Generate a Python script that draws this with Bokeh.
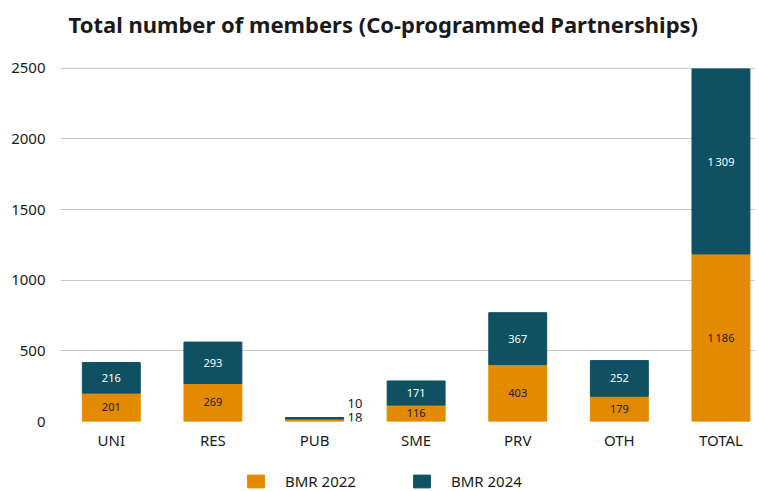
from bokeh.plotting import figure
from bokeh.layouts import column
from bokeh.models import (ColumnDataSource, Range1d, FixedTicker, Legend, LegendItem, Label)
from bokeh.core.properties import value
from bokeh.embed import file_html
from bokeh.resources import INLINE

title_text = "Total number of members (Co-programmed Partnerships)"
categories = ["UNI", "RES", "PUB", "SME", "PRV", "OTH", "TOTAL"]
bmr_2022 = [201, 269, 18, 116, 403, 179, 1186]
bmr_2024 = [216, 293, 10, 171, 367, 252, 1309]
series_names = ["BMR 2022", "BMR 2024"]
y_ticks = [0, 500, 1000, 1500, 2000, 2500]

C22 = "#E38A00"
C24 = "#0F5163"
FONT = "Noto Sans"
W = 755

xs = [i + 0.5 for i in range(len(categories))]
tops = [a + b for a, b in zip(bmr_2022, bmr_2024)]

def fmt(v):
    return f"{v:,}".replace(",", "\u2009")

small = [t < 100 for t in tops]
src = ColumnDataSource(dict(
    x=xs, b22=bmr_2022, b24=bmr_2024, top=tops,
    mid22=[v / 2 for v in bmr_2022],
    mid24=[a + b / 2 for a, b in zip(bmr_2022, bmr_2024)],
    l22=[fmt(v) for v in bmr_2022], l24=[fmt(v) for v in bmr_2024],
))
ins = [i for i, s in enumerate(small) if not s]
outs = [i for i, s in enumerate(small) if s]
src_in = ColumnDataSource({k: [src.data[k][i] for i in ins] for k in src.data})
src_out = ColumnDataSource({k: [src.data[k][i] for i in outs] for k in src.data})

def blank(height):
    f = figure(width=W, height=height, output_backend="svg", toolbar_location=None,
               x_axis_location=None, y_axis_location=None,
               x_range=Range1d(100, 101), y_range=Range1d(-5001, -5000),
               min_border=0, min_border_left=0, min_border_right=0,
               min_border_top=0, min_border_bottom=0)
    f.grid.visible = False
    f.outline_line_color = None
    return f

# title strip (frame is aligned with the chart's frame, which starts 60px in)
tf = blank(50)
tf.add_layout(Label(x=8, y=27, x_units="screen", y_units="screen", text=title_text,
                    text_font=FONT, text_font_size="22px", text_font_style="bold",
                    text_color="#1a1a1a", text_align="left", text_baseline="middle"))

# main chart
p = figure(width=W, height=412, output_backend="svg", toolbar_location=None,
           x_range=Range1d(0, 6.84), y_range=Range1d(0, 2505),
           min_border_left=60, min_border_right=0, min_border_top=17, min_border_bottom=41)

r22 = p.vbar(x="x", top="b22", bottom=0, width=0.57, color=C22, source=src)
r24 = p.vbar(x="x", top="top", bottom="b22", width=0.57, color=C24, source=src)

p.text(x="x", y="mid22", text="l22", source=src_in, text_align="center", text_baseline="middle",
       text_font=value(FONT), text_font_size="11px", text_color="#1a1a1a")
p.text(x="x", y="mid24", text="l24", source=src_in, text_align="center", text_baseline="middle",
       text_font=value(FONT), text_font_size="11px", text_color="#ffffff")
p.text(x="x", y="b22", text="l22", source=src_out, text_align="left", text_baseline="middle",
       x_offset=33, y_offset=-1, text_font=value(FONT), text_font_size="13px", text_color="#1a1a1a")
p.text(x="x", y="top", text="l24", source=src_out, text_align="left", text_baseline="middle",
       x_offset=33, y_offset=-14, text_font=value(FONT), text_font_size="13px", text_color="#1a1a1a")

p.xaxis.ticker = FixedTicker(ticks=xs)
p.xaxis.major_label_overrides = {x: c for x, c in zip(xs, categories)}
p.yaxis.ticker = FixedTicker(ticks=y_ticks)
for ax in (p.xaxis, p.yaxis):
    ax.axis_line_color = None
    ax.major_tick_line_color = None
    ax.minor_tick_line_color = None
    ax.major_label_text_font = FONT
    ax.major_label_text_font_size = "15px"
    ax.major_label_text_color = "#1a1a1a"
p.yaxis.major_label_standoff = 9
p.xaxis.major_label_standoff = 2
p.xgrid.grid_line_color = None
p.ygrid.grid_line_color = "#c8c8c8"
p.ygrid.grid_line_width = 1
p.outline_line_color = None

# legend strip
lf = blank(29)
s22 = lf.vbar(x="x", top="b22", bottom=0, width=0.57, color=C22, source=src, visible=False)
s24 = lf.vbar(x="x", top="top", bottom="b22", width=0.57, color=C24, source=src, visible=False)
legend = Legend(items=[LegendItem(label=series_names[0], renderers=[s22]),
                       LegendItem(label=series_names[1], renderers=[s24])],
                orientation="horizontal", location=(185, 0),
                label_text_font=FONT, label_text_font_size="15px", label_text_color="#1a1a1a",
                glyph_width=21, glyph_height=16, spacing=55, label_standoff=19,
                border_line_color=None, background_fill_alpha=0, padding=0, margin=0,
                inactive_fill_alpha=0)
lf.add_layout(legend, "center")

layout = column(tf, p, lf, spacing=0)
open("out.html", "w").write(file_html(layout, INLINE))
